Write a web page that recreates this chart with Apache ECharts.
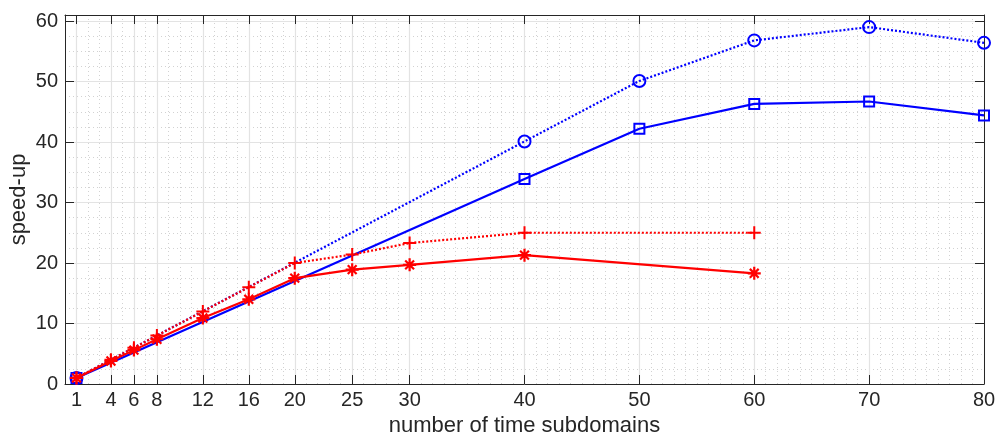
<!DOCTYPE html>
<html>
<head>
    <meta charset="utf-8">
    <title>speed-up</title>
    <script src="https://cdn.jsdelivr.net/npm/echarts@6/dist/echarts.min.js"></script>
</head>
<body style="margin:0;background:#fff">
    <div id="main" style="width:995px;height:433px;"></div>
    <script type="text/javascript">
        // tick labels
        var xTicks = [1, 4, 6, 8, 12, 16, 20, 25, 30, 40, 50, 60, 70, 80];
        var yTicks = [0, 10, 20, 30, 40, 50, 60];

        // blue dotted, circles
        var xBlueDot = [1, 40, 50, 60, 70, 80];
        var yBlueDot = [1, 40.1, 50.1, 56.8, 59.0, 56.4];
        // blue solid, squares
        var xBlueSolid = [1, 40, 50, 60, 70, 80];
        var yBlueSolid = [1, 33.9, 42.2, 46.3, 46.7, 44.4];
        // red dotted, plus
        var xRedDot = [1, 4, 6, 8, 12, 16, 20, 25, 30, 40, 60];
        var yRedDot = [1, 4, 6, 8, 12, 16, 20, 21.4, 23.3, 25, 25];
        // red solid, asterisk
        var xRedSolid = [1, 4, 6, 8, 12, 16, 20, 25, 30, 40, 60];
        var yRedSolid = [1, 3.8, 5.6, 7.4, 10.9, 14.0, 17.5, 18.9, 19.7, 21.3, 18.3];

        var FONT = '"Liberation Sans", Arial, Helvetica, sans-serif';
        var AX = '#262626';
        var PLUS = 'path://M5 0L5 10M0 5L10 5';
        var STAR = 'path://M5 0L5 10M0 5L10 5M1.6 1.6L8.4 8.4M8.4 1.6L1.6 8.4';

        function pairs(xs, ys) {
            return xs.map(function (x, i) { return [x, ys[i]]; });
        }

        function boxAxis(pos, max, ticks) {
            return {
                type: 'value', position: pos, min: 0, max: max, interval: 10, z: 3,
                axisLine: { show: true, onZero: false, lineStyle: { color: AX, width: 1 } },
                axisTick: { show: true, inside: true, length: 9, customValues: ticks, lineStyle: { color: AX } },
                axisLabel: { show: false },
                splitLine: { show: false }
            };
        }

        function minorAxis(pos, max, step) {
            return {
                type: 'value', position: pos, min: 0, max: max, interval: step, z: 0,
                axisLine: { show: false }, axisTick: { show: false }, axisLabel: { show: false },
                splitLine: { show: true, lineStyle: { color: '#d2d2d2', width: 1, type: [1, 3] } }
            };
        }

        var myChart = echarts.init(document.getElementById('main'));

        var option = {
            animation: false,
            backgroundColor: '#fff',
            textStyle: { fontFamily: FONT },
            grid: { left: 65, right: 11, top: 15, bottom: 49, outerBoundsMode: 'none', containLabel: false },
            xAxis: [
                {
                    type: 'value', position: 'bottom', min: 0, max: 80, interval: 10, z: 2,
                    name: 'number of time subdomains', nameLocation: 'middle', nameGap: 30,
                    nameTextStyle: { fontSize: 22, color: AX, fontFamily: FONT },
                    axisLine: { show: true, onZero: false, lineStyle: { color: AX, width: 1 } },
                    axisTick: { show: true, inside: true, length: 9, customValues: xTicks, lineStyle: { color: AX } },
                    axisLabel: { customValues: xTicks, fontSize: 20, color: AX, margin: 6, fontFamily: FONT },
                    splitLine: { show: true, lineStyle: { color: '#e3e3e3', width: 1.2 } }
                },
                boxAxis('top', 80, xTicks),
                minorAxis('bottom', 80, 1)
            ],
            yAxis: [
                {
                    type: 'value', position: 'left', min: 0, max: 61, interval: 10, z: 2,
                    name: 'speed-up', nameLocation: 'middle', nameGap: 35, nameRotate: 90,
                    nameMoveOverlap: false,
                    nameTextStyle: { fontSize: 22, color: AX, fontFamily: FONT },
                    axisLine: { show: true, onZero: false, lineStyle: { color: AX, width: 1 } },
                    axisTick: { show: true, inside: true, length: 9, customValues: yTicks, lineStyle: { color: AX } },
                    axisLabel: { customValues: yTicks, fontSize: 20, color: AX, margin: 7, fontFamily: FONT },
                    splitLine: { show: true, lineStyle: { color: '#e3e3e3', width: 1.2 } }
                },
                boxAxis('right', 61, yTicks),
                minorAxis('left', 61, 2.5)
            ],
            series: [
                {
                    type: 'line', data: pairs(xBlueDot, yBlueDot), z: 3,
                    symbol: 'circle', symbolSize: 12,
                    lineStyle: { color: '#0000ff', width: 2.2, type: [2, 2] },
                    itemStyle: { color: 'transparent', borderColor: '#0000ff', borderWidth: 2 }
                },
                {
                    type: 'line', data: pairs(xBlueSolid, yBlueSolid), z: 4,
                    symbol: 'rect', symbolSize: 10,
                    lineStyle: { color: '#0000ff', width: 2.2 },
                    itemStyle: { color: 'transparent', borderColor: '#0000ff', borderWidth: 2 }
                },
                {
                    type: 'line', data: pairs(xRedDot, yRedDot), z: 5,
                    symbol: PLUS, symbolSize: 13,
                    lineStyle: { color: '#ff0000', width: 2.2, type: [2, 2] },
                    itemStyle: { color: 'none', borderColor: '#ff0000', borderWidth: 2 }
                },
                {
                    type: 'line', data: pairs(xRedSolid, yRedSolid), z: 6,
                    symbol: STAR, symbolSize: 13,
                    lineStyle: { color: '#ff0000', width: 2.2 },
                    itemStyle: { color: 'none', borderColor: '#ff0000', borderWidth: 2.2 }
                }
            ]
        };

        myChart.setOption(option);
    </script>
</body>
</html>
